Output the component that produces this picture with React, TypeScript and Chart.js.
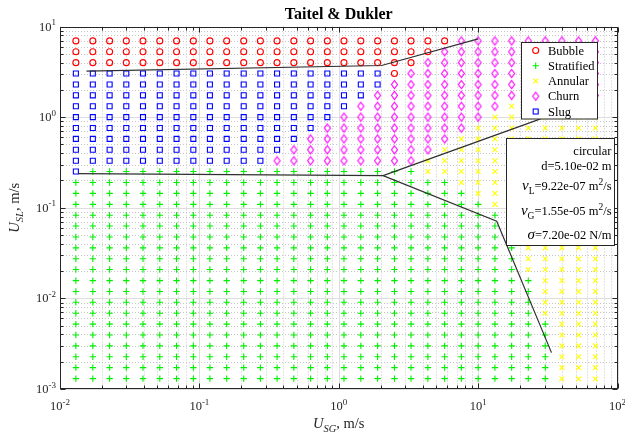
import React, { useEffect, useRef } from 'react';
import { Chart, registerables } from 'chart.js';

Chart.register(...registerables);

// ---------------- data ----------------
const xGrid = [0.0130, 0.0172, 0.0227, 0.0299, 0.0394, 0.0520, 0.0686, 0.0905,
  0.119, 0.157, 0.208, 0.274, 0.361, 0.476, 0.628, 0.828,
  1.09, 1.44, 1.90, 2.51, 3.30, 4.36, 5.75, 7.58,
  10.0, 13.2, 17.4, 22.9, 30.3, 39.9, 52.6, 69.4];
const yGrid = [0.00130, 0.00172, 0.00227, 0.00299, 0.00394, 0.00520, 0.00686, 0.00905,
  0.0119, 0.0157, 0.0208, 0.0274, 0.0361, 0.0476, 0.0628, 0.0828,
  0.109, 0.144, 0.190, 0.251, 0.330, 0.436, 0.575, 0.758,
  1.00, 1.32, 1.74, 2.29, 3.03, 3.99, 5.26, 6.94];

// regime of every grid cell, run-length coded, top row (largest U_SL) first
// B = Bubble, S = Stratified, A = Annular, C = Churn, L = Slug
const regimeRows = [
  'B23 C9', 'B22 C10', 'B21 C11', 'L19 B1 C12', 'L19 C13', 'L18 C14',
  'L17 C9 A6', 'L16 C9 A7', 'L15 C9 A8', 'L14 C9 A9', 'L13 C9 A10', 'L12 C9 A11',
  'L1 S20 A11', 'S23 A9', 'S24 A8', 'S25 A7', 'S26 A6', 'S27 A5', 'S27 A5',
  'S27 A5', 'S27 A5', 'S27 A5', 'S28 A4', 'S28 A4', 'S28 A4', 'S28 A4',
  'S29 A3', 'S29 A3', 'S29 A3', 'S29 A3', 'S29 A3', 'S29 A3',
];

const regimeNames = ['Bubble', 'Stratified', 'Annular', 'Churn', 'Slug'];
const regimeCodes = ['B', 'S', 'A', 'C', 'L'];
const regimeColors = ['#ff0000', '#00ee00', '#ffff00', '#ff00ff', '#0000ff'];

const boundaryBubble = [{ x: 0.0155, y: 3.21 }, { x: 2.03, y: 3.71 }, { x: 10.0, y: 7.3 }];
const boundaryStratified = [{ x: 0.0135, y: 0.238 }, { x: 2.08, y: 0.226 }, { x: 13.6, y: 0.071 }, { x: 33.6, y: 0.00252 }];
const boundaryAnnular = [{ x: 2.08, y: 0.226 }, { x: 26.2, y: 0.92 }, { x: 50, y: 1.36 }];

const xTickExps = [-2, -1, 0, 1, 2];
const yTickExps = [-3, -2, -1, 0, 1];
const minorMultipliers = [2, 3, 4, 5, 6, 7, 8, 9];

const titleText = 'Taitel & Dukler';
const infoLines = [
  [{ t: 'circular' }],
  [{ t: 'd=5.10e-02 m' }],
  [{ t: 'ν', it: true }, { t: 'L', sub: true }, { t: '=9.22e-07 m' }, { t: '2', sup: true }, { t: '/s' }],
  [{ t: 'ν', it: true }, { t: 'G', sub: true }, { t: '=1.55e-05 m' }, { t: '2', sup: true }, { t: '/s' }],
  [{ t: 'σ', it: true }, { t: '=7.20e-02 N/m' }],
];

// ---------------- styling helpers ----------------
const FONT = '"Liberation Serif", "Times New Roman", serif';
const AXIS_COLOR = '#262626';

function makeDiamond(color: string) {
  const c = document.createElement('canvas');
  c.width = 9; c.height = 11;
  const g = c.getContext('2d')!;
  g.strokeStyle = color; g.lineWidth = 1.1;
  g.beginPath();
  g.moveTo(4.5, 1.5); g.lineTo(7.5, 5.5); g.lineTo(4.5, 9.5); g.lineTo(1.5, 5.5); g.closePath();
  g.stroke();
  return c;
}

function parseRow(row: string) {
  const out: string[] = [];
  row.split(' ').forEach((tok) => {
    const code = tok[0];
    const n = parseInt(tok.slice(1), 10);
    for (let k = 0; k < n; k++) out.push(code);
  });
  return out;
}

type Seg = { t: string; size?: number; style?: string; dy?: number };

function drawSegs(ctx: CanvasRenderingContext2D, segs: Seg[], x: number, y: number, align: string) {
  const fonts = segs.map((s) => `${s.style || ''} ${s.size || 12}px ${FONT}`);
  const widths = segs.map((s, k) => { ctx.font = fonts[k]; return ctx.measureText(s.t).width; });
  const total = widths.reduce((a, b) => a + b, 0);
  let cx = align === 'center' ? x - total / 2 : align === 'right' ? x - total : x;
  ctx.textAlign = 'left';
  ctx.textBaseline = 'alphabetic';
  segs.forEach((s, k) => {
    ctx.font = fonts[k];
    ctx.fillText(s.t, cx, y + (s.dy || 0));
    cx += widths[k];
  });
}

function drawMarker(ctx: CanvasRenderingContext2D, code: string, x: number, y: number, color: string, diamond: HTMLCanvasElement) {
  ctx.save();
  ctx.strokeStyle = color;
  ctx.lineWidth = 1.1;
  ctx.beginPath();
  if (code === 'B') { ctx.arc(x, y, 3, 0, Math.PI * 2); ctx.stroke(); }
  else if (code === 'S') { ctx.moveTo(x - 3.2, y); ctx.lineTo(x + 3.2, y); ctx.moveTo(x, y - 3.2); ctx.lineTo(x, y + 3.2); ctx.stroke(); }
  else if (code === 'A') { ctx.moveTo(x - 2.4, y - 2.4); ctx.lineTo(x + 2.4, y + 2.4); ctx.moveTo(x - 2.4, y + 2.4); ctx.lineTo(x + 2.4, y - 2.4); ctx.stroke(); }
  else if (code === 'C') { ctx.drawImage(diamond, x - 4.5, y - 5.5); }
  else if (code === 'L') { ctx.strokeRect(x - 2.5, y - 2.5, 5, 5); }
  ctx.restore();
}

export default function App() {
  const ref = useRef<HTMLCanvasElement>(null);

  useEffect(() => {
    document.body.style.margin = '0';
    const canvas = ref.current!;
    const diamond = makeDiamond('#ff00ff');

    const grid = regimeRows.map(parseRow); // grid[r][i], r=0 top row
    const nRows = yGrid.length;
    const pointSets = regimeCodes.map((code) => {
      const pts: { x: number; y: number }[] = [];
      grid.forEach((row, r) => {
        const j = nRows - 1 - r;
        row.forEach((c, i) => { if (c === code) pts.push({ x: xGrid[i], y: yGrid[j] }); });
      });
      return pts;
    });

    const pointStyles: any[] = ['circle', 'cross', 'crossRot', diamond, 'rect'];
    const pointRadii = [3, 3.2, 3.4, 4, 3.55];

    const lineDs = [boundaryBubble, boundaryStratified, boundaryAnnular].map((d) => ({
      data: d,
      showLine: true,
      borderColor: '#303030',
      borderWidth: 1.2,
      pointRadius: 0,
      fill: false,
      tension: 0,
      order: 0,
    }));

    const pointDs = regimeCodes.map((code, k) => ({
      label: regimeNames[k],
      data: pointSets[k],
      showLine: false,
      pointStyle: pointStyles[k],
      pointRadius: pointRadii[k],
      pointBorderColor: regimeColors[k],
      pointBackgroundColor: 'rgba(0,0,0,0)',
      pointBorderWidth: 1.1,
      order: 1,
    }));

    const matlab = {
      id: 'matlabLook',
      beforeDatasetsDraw(chart: any) {
        const ctx: CanvasRenderingContext2D = chart.ctx;
        const xs = chart.scales.x, ys = chart.scales.y;
        const { left, right, top, bottom } = chart.chartArea;
        ctx.save();
        ctx.fillStyle = '#ffffff';
        ctx.fillRect(0, 0, chart.width, chart.height);
        ctx.lineWidth = 1;
        // minor grid (dotted)
        ctx.strokeStyle = '#c6c6c6';
        ctx.setLineDash([1, 2]);
        ctx.beginPath();
        xTickExps.slice(0, -1).forEach((e) => minorMultipliers.forEach((m) => {
          const px = Math.round(xs.getPixelForValue(m * Math.pow(10, e))) + 0.5;
          ctx.moveTo(px, top); ctx.lineTo(px, bottom);
        }));
        yTickExps.slice(0, -1).forEach((e) => minorMultipliers.forEach((m) => {
          const py = Math.round(ys.getPixelForValue(m * Math.pow(10, e))) + 0.5;
          ctx.moveTo(left, py); ctx.lineTo(right, py);
        }));
        ctx.stroke();
        // major grid (solid)
        ctx.setLineDash([]);
        ctx.strokeStyle = '#dddddd';
        ctx.beginPath();
        xTickExps.forEach((e) => {
          const px = Math.round(xs.getPixelForValue(Math.pow(10, e))) + 0.5;
          ctx.moveTo(px, top); ctx.lineTo(px, bottom);
        });
        yTickExps.forEach((e) => {
          const py = Math.round(ys.getPixelForValue(Math.pow(10, e))) + 0.5;
          ctx.moveTo(left, py); ctx.lineTo(right, py);
        });
        ctx.stroke();
        ctx.restore();
      },
      afterDatasetsDraw(chart: any) {
        const ctx: CanvasRenderingContext2D = chart.ctx;
        const xs = chart.scales.x, ys = chart.scales.y;
        const { left, right, top, bottom } = chart.chartArea;
        const L = Math.round(left) + 0.5, R = Math.round(right) - 0.5;
        const T = Math.round(top) + 0.5, B = Math.round(bottom) - 0.5;
        ctx.save();
        ctx.strokeStyle = AXIS_COLOR;
        ctx.fillStyle = AXIS_COLOR;
        ctx.lineWidth = 1;
        ctx.setLineDash([]);
        // frame
        ctx.strokeRect(L, T, R - L, B - T);
        // ticks (inward, all four sides)
        ctx.beginPath();
        xTickExps.forEach((e, k) => {
          const vals = [{ v: Math.pow(10, e), len: 5 }];
          if (k < xTickExps.length - 1) minorMultipliers.forEach((m) => vals.push({ v: m * Math.pow(10, e), len: 3 }));
          vals.forEach(({ v, len }) => {
            const px = Math.round(xs.getPixelForValue(v)) + 0.5;
            ctx.moveTo(px, B); ctx.lineTo(px, B - len);
            ctx.moveTo(px, T); ctx.lineTo(px, T + len);
          });
        });
        yTickExps.forEach((e, k) => {
          const vals = [{ v: Math.pow(10, e), len: 5 }];
          if (k < yTickExps.length - 1) minorMultipliers.forEach((m) => vals.push({ v: m * Math.pow(10, e), len: 3 }));
          vals.forEach(({ v, len }) => {
            const py = Math.round(ys.getPixelForValue(v)) + 0.5;
            ctx.moveTo(L, py); ctx.lineTo(L + len, py);
            ctx.moveTo(R, py); ctx.lineTo(R - len, py);
          });
        });
        ctx.stroke();

        // tick labels
        xTickExps.forEach((e) => {
          const px = xs.getPixelForValue(Math.pow(10, e));
          drawSegs(ctx, [{ t: '10', size: 12.5 }, { t: String(e), size: 9, dy: -5.5 }], px, 410, 'center');
        });
        yTickExps.forEach((e) => {
          const py = ys.getPixelForValue(Math.pow(10, e));
          drawSegs(ctx, [{ t: '10', size: 12.5 }, { t: String(e), size: 9, dy: -5.5 }], 56, py + 4, 'right');
        });

        // axis titles
        const cx = (left + right) / 2;
        const cy = (top + bottom) / 2;
        drawSegs(ctx, [
          { t: 'U', size: 14.5, style: 'italic' },
          { t: 'SG', size: 10.5, style: 'italic', dy: 4 },
          { t: ', m/s', size: 14.5 },
        ], cx, 428, 'center');
        ctx.save();
        ctx.translate(18.5, cy);
        ctx.rotate(-Math.PI / 2);
        drawSegs(ctx, [
          { t: 'U', size: 14.5, style: 'italic' },
          { t: 'SL', size: 10.5, style: 'italic', dy: 4 },
          { t: ', m/s', size: 14.5 },
        ], 0, 0, 'center');
        ctx.restore();

        // title
        ctx.fillStyle = '#000000';
        ctx.font = `bold 16px ${FONT}`;
        ctx.textAlign = 'center';
        ctx.textBaseline = 'alphabetic';
        ctx.fillText(titleText, cx, 19);

        // legend box
        ctx.fillStyle = '#ffffff';
        ctx.fillRect(521.5, 42.5, 76, 76.5);
        ctx.strokeStyle = AXIS_COLOR;
        ctx.strokeRect(521.5, 42.5, 76, 76.5);
        regimeNames.forEach((name, k) => {
          const yc = 50.5 + k * 15.25;
          drawMarker(ctx, regimeCodes[k], 535.7, yc, regimeColors[k], diamond);
          ctx.fillStyle = '#000000';
          drawSegs(ctx, [{ t: name, size: 12.5 }], 548, yc + 4, 'left');
        });

        // info box
        ctx.fillStyle = '#ffffff';
        ctx.fillRect(506.5, 138.5, 108, 107);
        ctx.strokeStyle = AXIS_COLOR;
        ctx.strokeRect(506.5, 138.5, 108, 107);
        ctx.fillStyle = '#000000';
        const baselines = [155, 170, 190, 215, 239];
        infoLines.forEach((line, k) => {
          const segs: Seg[] = line.map((s: any) => ({
            t: s.t,
            size: s.sub || s.sup ? 9.5 : s.it ? 15 : 12.5,
            style: s.it ? 'italic' : '',
            dy: s.sub ? 4 : s.sup ? -5.5 : 0,
          }));
          drawSegs(ctx, segs, 611.5, baselines[k], 'right');
        });
        ctx.restore();
      },
    };

    const chart = new Chart(canvas, {
      type: 'scatter',
      data: { datasets: [...lineDs, ...pointDs] as any },
      options: {
        responsive: false,
        animation: false,
        events: [],
        layout: { padding: { left: 60, right: 7.5, top: 26.5, bottom: 49 } },
        scales: {
          x: { type: 'logarithmic', min: 0.01, max: 100, display: false },
          y: { type: 'logarithmic', min: 0.001, max: 10, display: false },
        },
        plugins: {
          legend: { display: false },
          tooltip: { enabled: false },
          title: { display: false },
        },
      },
      plugins: [matlab],
    });
    return () => chart.destroy();
  }, []);

  return (
    <div style={{ width: 625, height: 438 }}>
      <canvas ref={ref} width={625} height={438} style={{ display: 'block' }} />
    </div>
  );
}
